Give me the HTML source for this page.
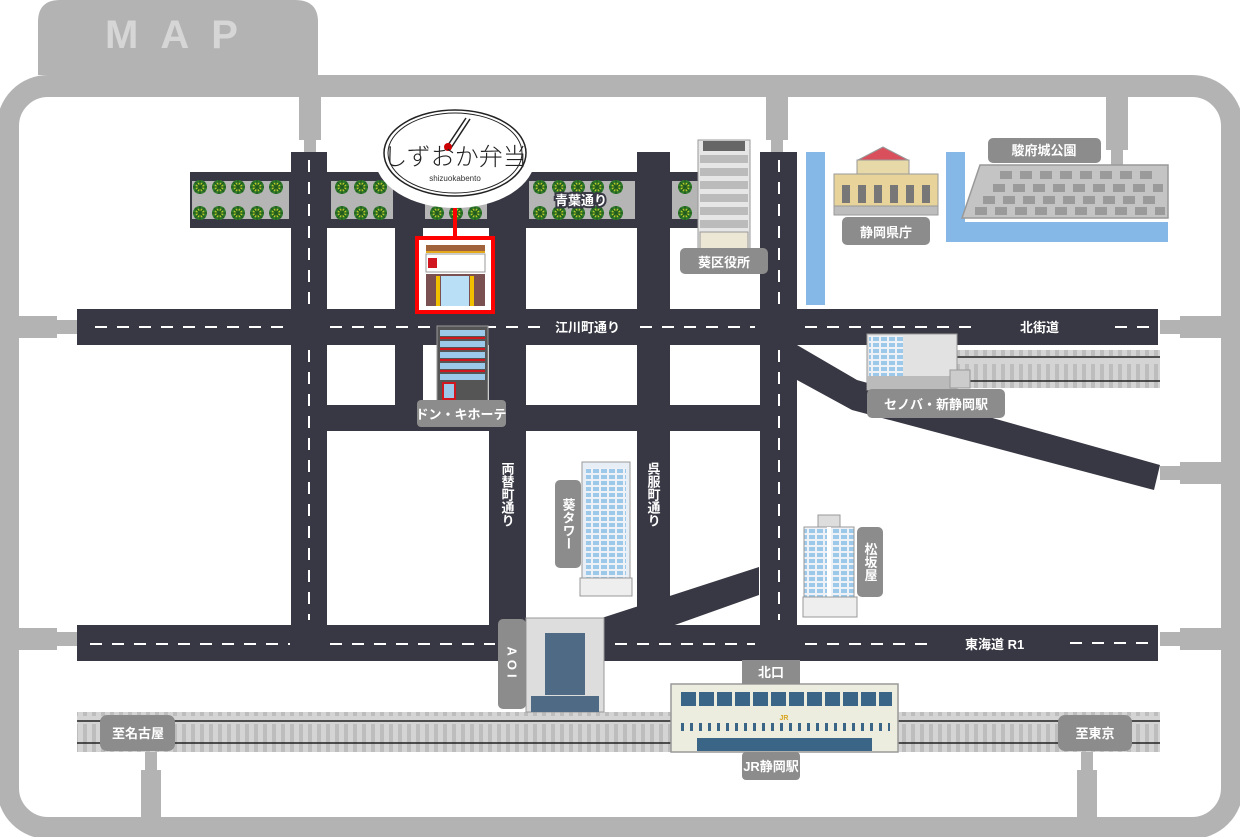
<!DOCTYPE html>
<html><head><meta charset="utf-8"><style>
body{margin:0;background:#fff}
svg{display:block}
text{font-family:"Liberation Sans","Noto Sans CJK JP",sans-serif;font-weight:bold}
</style></head><body>
<svg width="1240" height="837" viewBox="0 0 1240 837" xmlns="http://www.w3.org/2000/svg">
<defs>
<pattern id="ties" width="9" height="40" patternUnits="userSpaceOnUse"><rect width="9" height="40" fill="#d4d4d4"/><rect x="2" y="4" width="4" height="32" fill="#bdbdbd"/></pattern>
<pattern id="win" width="8" height="6" patternUnits="userSpaceOnUse"><rect width="8" height="6" fill="#eef2f6"/><rect x="1" y="1" width="6" height="4" fill="#9cc9ea"/></pattern>
<g id="tree"><circle r="7" fill="#2f7a2a"/><circle r="4.5" fill="#b8cc2a"/><path d="M-7 0H7M0-7V7M-5-5L5 5M5-5L-5 5" stroke="#1f5a1f" stroke-width="1.3"/></g>
</defs>
<!-- frame -->
<path d="M38 75V22Q38 0 60 0H295Q318 0 318 22V75Z" fill="#b3b3b3"/>
<text x="105" y="48" font-size="40" fill="#d6d6d6" letter-spacing="22">MAP</text>
<rect x="8" y="86" width="1224" height="742" rx="40" fill="none" stroke="#b3b3b3" stroke-width="22"/>
<!-- nubs -->
<g fill="#b3b3b3">
<rect x="299" y="95" width="22" height="45"/><rect x="304" y="135" width="12" height="18"/>
<rect x="766" y="95" width="22" height="45"/><rect x="771" y="135" width="12" height="18"/>
<rect x="1106" y="95" width="22" height="55"/><rect x="1111" y="145" width="12" height="25"/>
<rect x="17" y="316" width="40" height="22"/><rect x="55" y="320" width="22" height="14"/>
<rect x="17" y="628" width="40" height="22"/><rect x="55" y="632" width="22" height="14"/>
<rect x="1180" y="316" width="42" height="22"/><rect x="1160" y="320" width="22" height="14"/>
<rect x="1180" y="462" width="42" height="22"/><rect x="1160" y="466" width="22" height="14"/>
<rect x="1180" y="628" width="42" height="22"/><rect x="1160" y="632" width="22" height="14"/>
<rect x="141" y="770" width="20" height="52"/><rect x="145" y="750" width="12" height="25"/>
<rect x="1077" y="770" width="20" height="52"/><rect x="1081" y="750" width="12" height="25"/>
</g>
<!-- tree strips -->
<g>
<rect x="190" y="172" width="447" height="56" fill="#383844"/>
<rect x="670" y="172" width="30" height="56" fill="#383844"/>
<g fill="#b5b5b5">
<rect x="192" y="181" width="97" height="38"/><rect x="331" y="181" width="62" height="38"/><rect x="425" y="181" width="62" height="38"/><rect x="529" y="181" width="106" height="38"/><rect x="672" y="181" width="28" height="38"/>
</g>
<g id="row">
<use href="#tree" x="200" y="187"/><use href="#tree" x="219" y="187"/><use href="#tree" x="238" y="187"/><use href="#tree" x="257" y="187"/><use href="#tree" x="276" y="187"/>
<use href="#tree" x="342" y="187"/><use href="#tree" x="361" y="187"/><use href="#tree" x="380" y="187"/>
<use href="#tree" x="437" y="187"/><use href="#tree" x="456" y="187"/><use href="#tree" x="475" y="187"/>
<use href="#tree" x="540" y="187"/><use href="#tree" x="559" y="187"/><use href="#tree" x="578" y="187"/><use href="#tree" x="597" y="187"/><use href="#tree" x="616" y="187"/>
<use href="#tree" x="685" y="187"/>
</g>
<use href="#row" y="26"/>
</g>
<!-- water -->
<g fill="#85b8e6">
<rect x="806" y="152" width="19" height="153"/>
<rect x="946" y="152" width="19" height="90"/><rect x="946" y="222" width="222" height="20"/>
</g>
<!-- rails -->
<rect x="77" y="712" width="1083" height="40" fill="url(#ties)"/>
<line x1="77" y1="721" x2="1160" y2="721" stroke="#222" stroke-width="1.5"/>
<line x1="77" y1="743" x2="1160" y2="743" stroke="#222" stroke-width="1.5"/>
<rect x="955" y="350" width="205" height="38" fill="url(#ties)"/>
<line x1="955" y1="357" x2="1160" y2="357" stroke="#222" stroke-width="1.5"/>
<line x1="955" y1="381" x2="1160" y2="381" stroke="#222" stroke-width="1.5"/>
<!-- roads -->
<g fill="#383844">
<rect x="77" y="309" width="1081" height="36"/>
<rect x="77" y="625" width="1081" height="36"/>
<rect x="291" y="152" width="36" height="475"/>
<rect x="395" y="180" width="28" height="250"/>
<rect x="489" y="180" width="37" height="447"/>
<rect x="637" y="152" width="33" height="475"/>
<rect x="760" y="152" width="37" height="475"/>
<rect x="291" y="405" width="506" height="26"/>
<polygon points="797,345 857,380 1160,465 1154,490 852,410 797,380"/>
<polygon points="577,626 759,567 759,595 672,626"/>
</g>
<g stroke="#fff" stroke-width="2" stroke-dasharray="12,10" fill="none">
<line x1="95" y1="327" x2="290" y2="327"/><line x1="330" y1="327" x2="540" y2="327"/><line x1="640" y1="327" x2="755" y2="327"/><line x1="805" y1="327" x2="975" y2="327"/><line x1="1115" y1="327" x2="1150" y2="327"/>
<line x1="90" y1="644" x2="290" y2="644"/><line x1="330" y1="644" x2="495" y2="644"/><line x1="615" y1="644" x2="755" y2="644"/><line x1="805" y1="644" x2="935" y2="644"/><line x1="1070" y1="643" x2="1150" y2="643"/>
<line x1="309" y1="160" x2="309" y2="305"/><line x1="309" y1="350" x2="309" y2="620"/>
<line x1="779" y1="160" x2="779" y2="305"/><line x1="779" y1="350" x2="779" y2="620"/>
</g>
<g fill="#fff" font-size="13">
<text x="555" y="332">江川町通り</text>
<text x="1020" y="332">北街道</text>
<text x="965" y="649">東海道 R1</text>
</g>
<text x="555" y="205" font-size="13" fill="#fff" stroke="#383844" stroke-width="4" paint-order="stroke">青葉通り</text>
<g fill="#fff" font-size="13" writing-mode="tb">
<text x="507" y="462">両替町通り</text>
<text x="653" y="462">呉服町通り</text>
</g>
<!-- castle park -->
<polygon points="980,165 1168,165 1168,218 962,218" fill="#c4c4c4" stroke="#999" stroke-width="1.5"/>
<g fill="#9a9a9a">
<rect x="1000" y="171" width="12" height="8"/><rect x="1020" y="171" width="12" height="8"/><rect x="1040" y="171" width="12" height="8"/><rect x="1060" y="171" width="12" height="8"/><rect x="1080" y="171" width="12" height="8"/><rect x="1100" y="171" width="12" height="8"/><rect x="1120" y="171" width="12" height="8"/><rect x="1140" y="171" width="12" height="8"/>
<rect x="993" y="184" width="12" height="8"/><rect x="1013" y="184" width="12" height="8"/><rect x="1033" y="184" width="12" height="8"/><rect x="1053" y="184" width="12" height="8"/><rect x="1073" y="184" width="12" height="8"/><rect x="1093" y="184" width="12" height="8"/><rect x="1113" y="184" width="12" height="8"/><rect x="1133" y="184" width="12" height="8"/><rect x="1153" y="184" width="10" height="8"/>
<rect x="983" y="196" width="12" height="8"/><rect x="1003" y="196" width="12" height="8"/><rect x="1023" y="196" width="12" height="8"/><rect x="1043" y="196" width="12" height="8"/><rect x="1063" y="196" width="12" height="8"/><rect x="1083" y="196" width="12" height="8"/><rect x="1103" y="196" width="12" height="8"/><rect x="1123" y="196" width="12" height="8"/><rect x="1143" y="196" width="12" height="8"/>
<rect x="975" y="207" width="12" height="8"/><rect x="995" y="207" width="12" height="8"/><rect x="1015" y="207" width="12" height="8"/><rect x="1035" y="207" width="12" height="8"/><rect x="1055" y="207" width="12" height="8"/><rect x="1075" y="207" width="12" height="8"/><rect x="1095" y="207" width="12" height="8"/><rect x="1115" y="207" width="12" height="8"/><rect x="1135" y="207" width="12" height="8"/><rect x="1155" y="207" width="10" height="8"/>
</g>
<!-- prefectural office -->
<polygon points="858,160 883,147 908,160" fill="#d94f5c" stroke="#999"/>
<rect x="857" y="160" width="52" height="14" fill="#e8d9a8" stroke="#999"/>
<rect x="834" y="174" width="104" height="32" fill="#e8d39a" stroke="#999"/>
<g fill="#777"><rect x="842" y="185" width="8" height="18"/><rect x="858" y="185" width="8" height="18"/><rect x="874" y="185" width="8" height="18"/><rect x="890" y="185" width="8" height="18"/><rect x="906" y="185" width="8" height="18"/><rect x="922" y="185" width="8" height="18"/></g>
<rect x="834" y="206" width="104" height="9" fill="#bdbdbd" stroke="#999"/>
<!-- ward office -->
<rect x="698" y="140" width="52" height="110" fill="#e6e6e6" stroke="#999"/>
<rect x="703" y="141" width="42" height="10" fill="#666"/>
<g fill="#bbb"><rect x="700" y="155" width="48" height="8"/><rect x="700" y="168" width="48" height="8"/><rect x="700" y="181" width="48" height="8"/><rect x="700" y="194" width="48" height="8"/><rect x="700" y="207" width="48" height="8"/><rect x="700" y="220" width="48" height="8"/></g>
<rect x="700" y="232" width="48" height="18" fill="#ece6d4" stroke="#999"/>
<!-- bento shop -->
<rect x="417" y="238" width="76" height="74" fill="#fff" stroke="#f00" stroke-width="4"/>
<line x1="455" y1="200" x2="455" y2="238" stroke="#f00" stroke-width="4"/>
<rect x="426" y="245" width="59" height="6" fill="#a0623a"/>
<rect x="426" y="251" width="59" height="2" fill="#e3a81c"/>
<rect x="426" y="254" width="59" height="18" fill="#fff" stroke="#999"/>
<rect x="428" y="258" width="9" height="10" fill="#d0161e"/>
<rect x="426" y="274" width="59" height="32" fill="#7a5050"/>
<rect x="436" y="276" width="4" height="30" fill="#f0c000"/><rect x="470" y="276" width="4" height="30" fill="#f0c000"/>
<rect x="441" y="276" width="28" height="30" fill="#b8dff5"/>
<!-- logo -->
<ellipse cx="455" cy="158" rx="80" ry="50" fill="#fff"/>
<ellipse cx="455" cy="153" rx="71" ry="43" fill="#fff" stroke="#222" stroke-width="1.5"/>
<ellipse cx="455" cy="153" rx="67" ry="40" fill="none" stroke="#222" stroke-width="1"/>
<line x1="446" y1="148" x2="466" y2="118" stroke="#222" stroke-width="1.5"/>
<line x1="451" y1="148" x2="470" y2="119" stroke="#222" stroke-width="1.5"/>
<circle cx="448" cy="147" r="4" fill="#c00"/>
<text x="455" y="165" text-anchor="middle" font-size="24" fill="#222" style="font-weight:300">しずおか弁当</text>
<text x="455" y="181" text-anchor="middle" font-size="8" fill="#333" style="font-weight:normal">shizuokabento</text>
<!-- don quijote -->
<rect x="437" y="326" width="51" height="75" fill="#555" stroke="#999"/>
<g fill="#9cc9ea"><rect x="440" y="330" width="45" height="6"/><rect x="440" y="341" width="45" height="6"/><rect x="440" y="352" width="45" height="6"/><rect x="440" y="363" width="45" height="6"/><rect x="440" y="374" width="45" height="6"/></g>
<g fill="#d0161e"><rect x="440" y="337" width="45" height="2"/><rect x="440" y="348" width="45" height="2"/><rect x="440" y="359" width="45" height="2"/><rect x="440" y="370" width="45" height="2"/></g>
<rect x="443" y="383" width="12" height="16" fill="#9cc9ea" stroke="#d0161e" stroke-width="2"/>
<!-- cenova -->
<rect x="867" y="334" width="90" height="56" fill="#e2e2e2" stroke="#999"/>
<rect x="869" y="336" width="34" height="40" fill="url(#win)"/>
<rect x="867" y="376" width="90" height="14" fill="#bbb"/>
<rect x="950" y="370" width="20" height="18" fill="#ccc" stroke="#999"/>
<!-- aoi tower -->
<rect x="582" y="462" width="48" height="118" fill="#e8eef5" stroke="#999"/>
<rect x="586" y="468" width="40" height="110" fill="url(#win)"/>
<rect x="580" y="578" width="52" height="18" fill="#eee" stroke="#999"/>
<!-- matsuzakaya -->
<rect x="818" y="515" width="22" height="12" fill="#ddd" stroke="#999"/>
<rect x="804" y="527" width="50" height="70" fill="url(#win)" stroke="#999"/>
<rect x="827" y="527" width="4" height="70" fill="#fff"/>
<rect x="803" y="597" width="54" height="20" fill="#eee" stroke="#999"/>
<!-- AOI -->
<rect x="526" y="618" width="78" height="94" fill="#ddd" stroke="#999"/>
<rect x="545" y="633" width="40" height="62" fill="#4f6a84"/>
<rect x="531" y="696" width="68" height="16" fill="#4f6a84"/>
<!-- JR station -->
<rect x="671" y="684" width="227" height="68" fill="#ececdf" stroke="#999" stroke-width="1.5"/>
<g fill="#3a6587">
<rect x="681" y="692" width="15" height="14"/><rect x="699" y="692" width="15" height="14"/><rect x="717" y="692" width="15" height="14"/><rect x="735" y="692" width="15" height="14"/><rect x="753" y="692" width="15" height="14"/><rect x="771" y="692" width="15" height="14"/><rect x="789" y="692" width="15" height="14"/><rect x="807" y="692" width="15" height="14"/><rect x="825" y="692" width="15" height="14"/><rect x="843" y="692" width="15" height="14"/><rect x="861" y="692" width="15" height="14"/><rect x="879" y="692" width="13" height="14"/>
<rect x="697" y="738" width="175" height="13"/>
</g>
<line x1="681" y1="727" x2="890" y2="727" stroke="#3a6587" stroke-width="8" stroke-dasharray="3,6"/>
<text x="784" y="720" text-anchor="middle" font-size="7" fill="#d9a520">JR</text>
<!-- labels -->
<g fill="#8c8c8c">
<rect x="988" y="138" width="113" height="25" rx="5"/>
<rect x="842" y="217" width="88" height="28" rx="5"/>
<rect x="680" y="248" width="88" height="26" rx="5"/>
<rect x="417" y="400" width="89" height="27" rx="4"/>
<rect x="867" y="389" width="138" height="29" rx="5"/>
<rect x="555" y="480" width="26" height="88" rx="5"/>
<rect x="857" y="527" width="26" height="70" rx="5"/>
<rect x="498" y="619" width="28" height="90" rx="5"/>
<rect x="742" y="660" width="58" height="24"/>
<rect x="742" y="752" width="58" height="28" rx="4"/>
<rect x="100" y="715" width="75" height="36" rx="7"/>
<rect x="1058" y="715" width="74" height="36" rx="7"/>
</g>
<g fill="#fff" font-size="13" text-anchor="middle">
<text x="1044" y="155">駿府城公園</text>
<text x="886" y="237">静岡県庁</text>
<text x="724" y="267">葵区役所</text>
<text x="461" y="419">ドン・キホーテ</text>
<text x="936" y="409">セノバ・新静岡駅</text>
<text x="771" y="677">北口</text>
<text x="771" y="771">JR静岡駅</text>
<text x="138" y="738">至名古屋</text>
<text x="1095" y="738">至東京</text>
</g>
<g fill="#fff" font-size="13" writing-mode="tb" text-anchor="middle">
<text x="568" y="524">葵タワー</text>
<text x="870" y="562">松坂屋</text>
<text x="512" y="664" letter-spacing="4">AOI</text>
</g>
</svg>
</body></html>
